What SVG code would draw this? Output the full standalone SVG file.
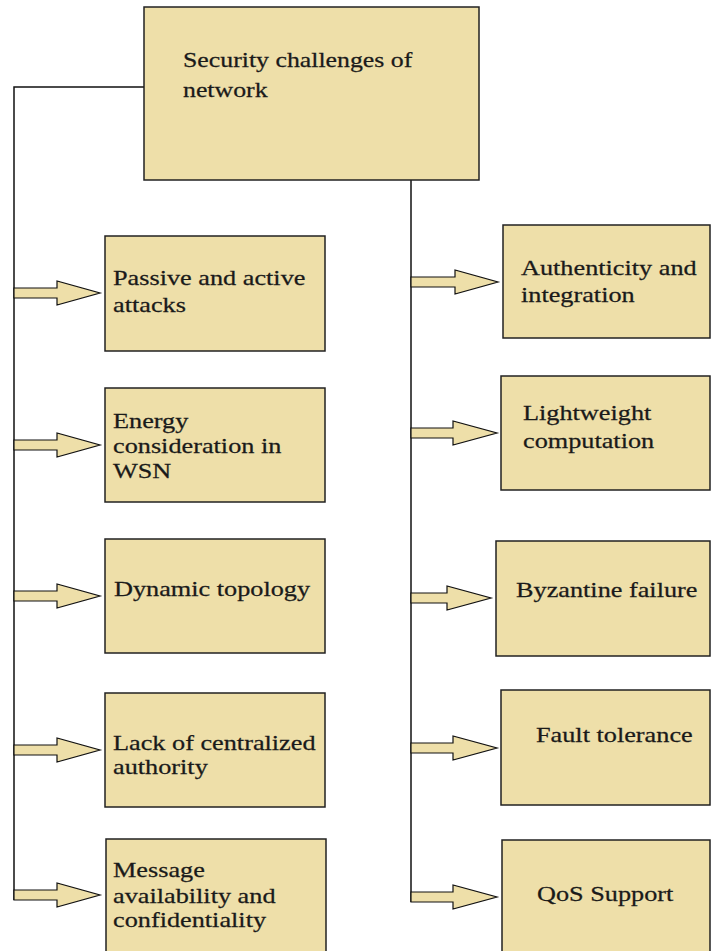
<svg xmlns="http://www.w3.org/2000/svg" width="711" height="951" viewBox="0 0 711 951">
<style>
.box{fill:#EEDFA9;stroke:#222;stroke-width:1.5}
.arr{fill:#EEDFA9;stroke:#111;stroke-width:1.2;stroke-linejoin:miter}
.ln{fill:none;stroke:#111;stroke-width:1.5}
text{font-family:"Liberation Serif","Times New Roman",serif;font-size:21px;fill:#1a1a1a;stroke:#1a1a1a;stroke-width:0.25}
</style>
<rect width="711" height="951" fill="#fff"/>
<g id="connectors">
<polyline class="ln" points="144,87 14,87 14,900"/>
<polyline class="ln" points="411,180 411,902"/>
<polygon class="arr" points="14,288 57,288 57,281 100,293 57,305 57,298 14,298"/>
<polygon class="arr" points="14,440 57,440 57,433 100,445 57,457 57,450 14,450"/>
<polygon class="arr" points="14,591 57,591 57,584 100,596 57,608 57,601 14,601"/>
<polygon class="arr" points="14,745 57,745 57,738 100,750 57,762 57,755 14,755"/>
<polygon class="arr" points="14,890 57,890 57,883 100,895 57,907 57,900 14,900"/>
<polygon class="arr" points="411,277 455,277 455,270 498,282 455,294 455,287 411,287"/>
<polygon class="arr" points="411,428 453,428 453,421 497,433 453,445 453,438 411,438"/>
<polygon class="arr" points="411,593 447,593 447,586 491,598 447,610 447,603 411,603"/>
<polygon class="arr" points="411,743 453,743 453,736 497,748 453,760 453,753 411,753"/>
<polygon class="arr" points="411,892 453,892 453,885 497,897 453,909 453,902 411,902"/>
</g>
<g id="root">
<rect class="box" x="144" y="7" width="335" height="173"/>
<text transform="translate(183 67) scale(1.23 1)"><tspan x="0" y="0">Security challenges of</tspan><tspan x="0" y="30">network</tspan></text>
</g>
<g id="passive">
<rect class="box" x="105" y="236" width="220" height="115"/>
<text transform="translate(113 285) scale(1.25 1)"><tspan x="0" y="0">Passive and active</tspan><tspan x="0" y="27">attacks</tspan></text>
</g>
<g id="energy">
<rect class="box" x="105" y="388" width="220" height="114"/>
<text transform="translate(113 428) scale(1.25 1)"><tspan x="0" y="0">Energy</tspan><tspan x="0" y="25">consideration in</tspan><tspan x="0" y="50">WSN</tspan></text>
</g>
<g id="dynamic">
<rect class="box" x="105" y="539" width="220" height="114"/>
<text transform="translate(114 596) scale(1.25 1)">Dynamic topology</text>
</g>
<g id="lack">
<rect class="box" x="105" y="693" width="220" height="114"/>
<text transform="translate(113 750) scale(1.25 1)"><tspan x="0" y="0">Lack of centralized</tspan><tspan x="0" y="24">authority</tspan></text>
</g>
<g id="message">
<rect class="box" x="106" y="839" width="220" height="125"/>
<text transform="translate(113 877) scale(1.25 1)"><tspan x="0" y="0">Message</tspan><tspan x="0" y="26">availability and</tspan><tspan x="0" y="50">confidentiality</tspan></text>
</g>
<g id="authenticity">
<rect class="box" x="503" y="225" width="207" height="113"/>
<text transform="translate(521 275) scale(1.25 1)"><tspan x="0" y="0">Authenticity and</tspan><tspan x="0" y="27">integration</tspan></text>
</g>
<g id="lightweight">
<rect class="box" x="501" y="376" width="209" height="114"/>
<text transform="translate(523 420) scale(1.25 1)"><tspan x="0" y="0">Lightweight</tspan><tspan x="0" y="28">computation</tspan></text>
</g>
<g id="byzantine">
<rect class="box" x="496" y="541" width="214" height="115"/>
<text transform="translate(516 597) scale(1.25 1)">Byzantine failure</text>
</g>
<g id="fault">
<rect class="box" x="501" y="690" width="209" height="115"/>
<text transform="translate(536 742) scale(1.25 1)">Fault tolerance</text>
</g>
<g id="qos">
<rect class="box" x="502" y="840" width="208" height="125"/>
<text transform="translate(537 901) scale(1.25 1)">QoS Support</text>
</g>
</svg>
